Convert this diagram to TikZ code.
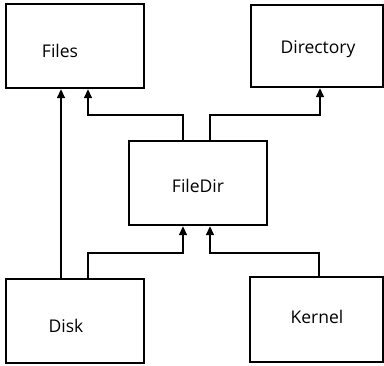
\documentclass[tikz,border=0pt]{standalone}
\usepackage{fontspec}
\setmainfont{Open Sans}
\usetikzlibrary{arrows.meta,calc}
\begin{document}
\begin{tikzpicture}[x=1pt,y=-1pt,
  box/.style={draw,line width=2.4pt,rectangle,inner sep=0pt},
  lbl/.style={font=\fontsize{17.5}{20}\selectfont,inner sep=0pt},
  link/.style={line width=1.4pt,-{Triangle[length=9pt,width=8pt]}}]
  \useasboundingbox (0,0) rectangle (384,366);
  % module boxes
  \node[box,minimum width=138pt,minimum height=84pt] (files) at (75,46) {};
  \node[box,minimum width=132pt,minimum height=82pt] (dir) at (317,46) {};
  \node[box,minimum width=138pt,minimum height=84pt] (fd) at (198,183) {};
  \node[box,minimum width=138pt,minimum height=84pt] (disk) at (75,321) {};
  \node[box,minimum width=133pt,minimum height=85pt] (kern) at (316.5,319.5) {};
  % labels
  \node[lbl] (tfiles) at (60,51) {Files};
  \node[lbl] (tdir) at (318,49) {Directory};
  \node[lbl] (tfd) at (198,186) {FileDir};
  \node[lbl] (tdisk) at (66,326) {Disk};
  \node[lbl] (tkern) at (317,317) {Kernel};
  % dependency links
  \draw[link] (disk.north -| 61,0) -- (files.south -| 61,0);
  \draw[link] (fd.north -| 183,0) |- (88,115) -- (files.south -| 88,0);
  \draw[link] (fd.north -| 210,0) |- (320,115) -- (dir.south -| 320,0);
  \draw[link] (disk.north -| 88,0) |- (183,253) -- (fd.south -| 183,0);
  \draw[link] (kern.north -| 319,0) |- (210,253) -- (fd.south -| 210,0);
\end{tikzpicture}
\end{document}
